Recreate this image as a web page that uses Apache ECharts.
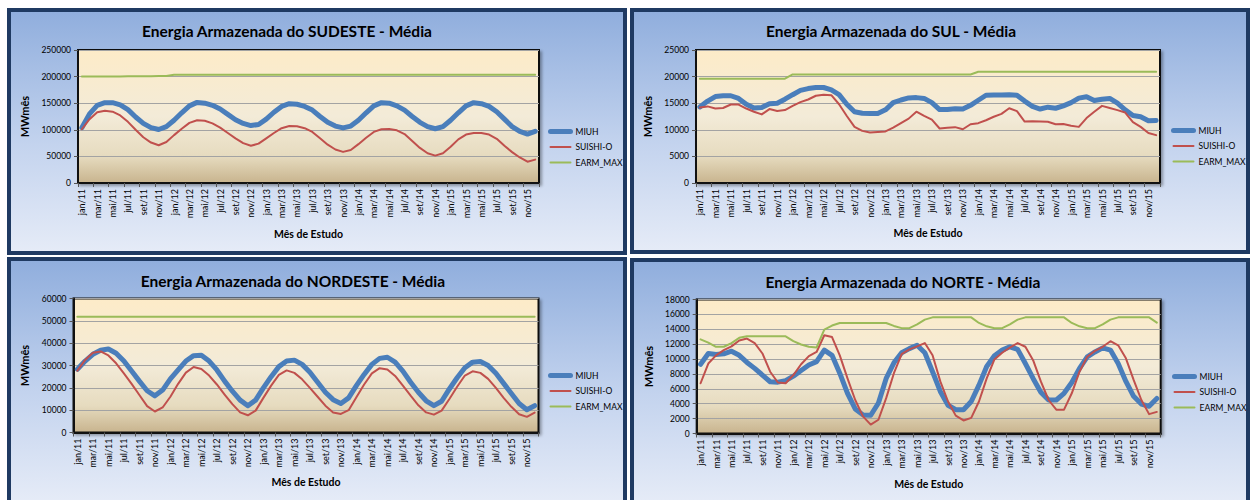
<!DOCTYPE html>
<html><head><meta charset="utf-8">
<script src="https://cdn.jsdelivr.net/npm/echarts@6/dist/echarts.min.js"></script>
<style>
html,body{margin:0;padding:0;background:#fff;width:1256px;height:500px;overflow:hidden;position:relative;}
.panel{position:absolute;box-sizing:border-box;border:4px solid #1f3a62;background:linear-gradient(to bottom,#90aedd 0%,#c3d3ee 55%,#e5ebf7 100%);}
.panel > div{width:100%;height:100%;}
</style></head><body>
<div class="panel" style="left:7px;top:8px;width:620px;height:247px"><div id="c1"></div></div>
<div class="panel" style="left:630px;top:8px;width:620px;height:246px"><div id="c2"></div></div>
<div class="panel" style="left:7px;top:257px;width:620px;height:247px"><div id="c3"></div></div>
<div class="panel" style="left:630px;top:258px;width:620px;height:247px"><div id="c4"></div></div>
<script>
const MONTHS = ['jan','fev','mar','abr','mai','jun','jul','ago','set','out','nov','dez'];
const YEARS = ['11','12','13','14','15'];
const CATEGORIES = [];
YEARS.forEach(y => MONTHS.forEach(m => CATEGORIES.push(m + '/' + y)));
const LEGEND = ['MIUH','SUISHI-O','EARM_MAX'];

// SUDESTE
const SE_MIUH = [104000,130000,146000,151000,151000,147000,138000,124000,112000,104000,100500,106000,
 118000,132000,145000,151500,150000,146000,139000,129000,119000,112000,108000,110000,
 120000,133000,144000,149000,148000,144000,137000,125000,114000,107000,103500,107000,
 118000,132000,145000,151000,150000,145000,137000,125000,114000,106000,102000,106000,
 118000,132000,145000,151000,149000,144000,134000,120000,106000,97000,92000,97000];
const SE_SUISHI = [101000,120000,133000,136000,134000,127000,115000,100000,86000,76000,71000,77000,
 90000,102000,113000,118000,117000,112000,104000,94000,84000,75000,70000,74000,
 84000,94000,103000,107000,106500,103000,96000,84000,72000,63000,58500,62000,
 73000,85000,96000,101000,101500,99000,92000,79000,66000,56000,51500,56000,
 68000,82000,91000,94000,94000,91000,83000,70000,58000,48000,40000,44000];
const SE_EARM = [200000,200000,200000,200000,200000,200300,200500,200600,200700,200800,200900,201000,
 203400,203400,203400,203400,203400,203400,203400,203400,203400,203400,203400,203400,
 203400,203400,203400,203400,203400,203400,203400,203400,203400,203400,203400,203400,
 203400,203400,203400,203400,203400,203400,203400,203400,203400,203400,203400,203400,
 203400,203400,203400,203400,203400,203400,203400,203400,203400,203400,203400,203400];

// SUL
const S_MIUH = [14300,15400,16250,16400,16400,15900,14800,14100,14200,14900,15000,15750,
 16600,17400,17750,17950,17950,17500,16600,14800,13400,13100,13050,13050,
 13750,15100,15600,16000,16050,15900,15100,13800,13800,13950,13900,14600,
 15550,16500,16550,16550,16600,16500,15400,14400,13900,14250,14050,14500,
 15100,15950,16200,15500,15750,15900,15000,13750,12700,12450,11700,11750];
const S_SUISHI = [14200,14400,14000,14100,14750,14750,14000,13400,12900,13900,13550,13700,
 14500,15200,15700,16400,16600,16500,14800,12600,10550,9800,9500,9600,
 9700,10400,11250,12100,13400,12600,11900,10250,10400,10500,10100,11050,
 11250,11800,12450,13000,14050,13500,11550,11600,11550,11500,11050,11100,
 10750,10550,12200,13400,14500,14100,13700,13250,11450,10550,9400,9000];
const S_EARM = [19600,19600,19600,19600,19600,19600,19600,19600,19600,19600,19600,19600,
 20400,20400,20400,20400,20400,20400,20400,20400,20400,20400,20400,20400,
 20400,20400,20400,20400,20400,20400,20400,20400,20400,20400,20400,20400,
 20900,20900,20900,20900,20900,20900,20900,20900,20900,20900,20900,20900,
 20900,20900,20900,20900,20900,20900,20900,20900,20900,20900,20900,20900];

// NORDESTE
const NE_MIUH = [28300,32000,35000,36800,37400,35500,32000,27500,23000,18700,16400,19000,
 24000,28000,32000,34400,34600,32000,28000,23000,18500,14500,12000,14500,
 20000,25000,29500,32000,32400,30500,27000,22500,18000,14700,13000,15500,
 21000,26000,30500,33200,33700,31500,27500,22500,18000,14200,12000,14000,
 19500,24500,29000,31500,31800,30000,26500,22000,17500,13000,10200,12000];
const NE_SUISHI = [27700,32500,35700,36300,34500,31000,26500,21800,16800,11800,9400,11200,
 16000,21800,26800,29300,28400,25500,21500,17000,12700,9000,7700,9800,
 15500,21000,25800,27800,26700,23800,20000,16000,12000,9000,8300,10000,
 15800,21500,26500,28800,28200,25300,21000,16500,12200,9000,8000,9800,
 15000,20500,25500,27400,26700,24000,20000,15500,11500,8200,7000,8900];
const NE_EARM = [51800,51800,51800,51800,51800,51800,51800,51800,51800,51800,51800,51800,
 51800,51800,51800,51800,51800,51800,51800,51800,51800,51800,51800,51800,
 51800,51800,51800,51800,51800,51800,51800,51800,51800,51800,51800,51800,
 51800,51800,51800,51800,51800,51800,51800,51800,51800,51800,51800,51800,
 51800,51800,51800,51800,51800,51800,51800,51800,51800,51800,51800,51800];

// NORTE
const N_MIUH = [9300,10750,10600,10700,11050,10500,9550,8750,7850,6950,6900,7100,
 7700,8450,9200,9650,11200,10500,8100,5400,3300,2500,2450,4100,
 7400,9500,10850,11400,11850,10850,8300,5650,3800,3200,3200,4300,
 6500,9000,10450,11200,11650,11300,9400,7400,5550,4500,4500,5400,
 6850,8750,10300,10950,11500,11200,9400,7000,5000,3950,3650,4700];
const N_SUISHI = [6750,9400,10500,11200,11700,12500,12750,12150,10750,8300,6850,6750,
 7850,9300,10400,10950,13200,12950,10500,7400,4500,2300,1200,1850,
 4750,8100,10650,11300,11700,12150,10500,7000,4300,2400,1750,2100,
 4300,7400,9950,10850,11550,12150,11650,9850,7000,4500,3200,3200,
 5400,8300,10300,11100,11650,12400,11850,10100,7200,4500,2600,2900];
const N_EARM = [12650,12200,11650,11650,12150,12850,13050,13050,13050,13050,13050,13050,
 12400,11950,11650,11550,13950,14500,14850,14850,14850,14850,14850,14850,
 14850,14450,14150,14150,14650,15300,15600,15600,15600,15600,15600,15600,
 14850,14400,14150,14150,14650,15300,15600,15600,15600,15600,15600,15600,
 14850,14400,14150,14150,14650,15300,15600,15600,15600,15600,15600,14900];

const FONT = 'Lato, "Open Sans", sans-serif';
const COLORS = ['#4a7ebb','#c0504d','#9bbb59'];
const WIDTHS = [5, 2, 2];

function build(id, cfg){
  const chart = echarts.init(document.getElementById(id), null, {renderer:'svg'});
  const seriesData = [cfg.miuh, cfg.suishi, cfg.earm];
  chart.setOption({
    animation:false,
    backgroundColor:'transparent',
    textStyle:{fontFamily:FONT},
    graphic:[{type:'text', x:cfg.titleX, y:cfg.titleY, style:{text:cfg.title, fill:'#000',
      fontFamily:FONT, fontWeight:'bold', fontSize:15.5, align:'center', verticalAlign:'middle'}}],
    grid:{left:cfg.grid[0], top:cfg.grid[1], width:cfg.grid[2], height:cfg.grid[3], show:true,
      backgroundColor:{type:'linear',x:0,y:0,x2:0,y2:1,colorStops:[
        {offset:0,color:'#fdebc8'},{offset:0.5,color:'#f3ebd8'},{offset:0.8,color:'#e6dbbf'},{offset:1,color:'#c8b48e'}]},
      borderColor:'#111', borderWidth:2,
      shadowColor:'rgba(0,0,0,0.35)', shadowBlur:3, shadowOffsetX:2, shadowOffsetY:2},
    legend:{orient:'vertical', left:cfg.legend[0], top:cfg.legend[1], padding:0, itemWidth:20, itemHeight:10, itemGap:6.5,
      textStyle:{fontSize:8.5, color:'#000', fontFamily:FONT},
      data:LEGEND.map((n,i)=>({name:n, itemStyle:{opacity:0}, lineStyle:{width:WIDTHS[i], color:COLORS[i]}}))},
    xAxis:{type:'category', data:CATEGORIES, boundaryGap:true,
      axisLine:{lineStyle:{color:'#111', width:2}},
      axisTick:{show:true, length:4, lineStyle:{color:'#555'}},
      axisLabel:{interval:1, rotate:90, fontSize:9, color:'#000', margin:6, fontFamily:FONT},
      name:'Mês de Estudo', nameLocation:'middle', nameGap:cfg.xGap,
      nameTextStyle:{fontWeight:'bold', fontSize:10.5, color:'#000', fontFamily:FONT}},
    yAxis:{type:'value', min:0, max:cfg.max, interval:cfg.interval,
      axisLine:{show:true, lineStyle:{color:'#111', width:2}},
      axisTick:{show:true, length:4, lineStyle:{color:'#555'}},
      axisLabel:{fontSize:8.5, color:'#000', margin:7, fontFamily:FONT, formatter:v=>String(v)},
      splitLine:{lineStyle:{color:'#a3a3a3'}},
      name:'MWmês', nameLocation:'middle', nameGap:cfg.yGap,
      nameTextStyle:{fontWeight:'bold', fontSize:11, color:'#000', fontFamily:FONT}},
    series:LEGEND.map((n,i)=>({name:n, type:'line', data:seriesData[i], symbol:'none',
      lineStyle:{color:COLORS[i], width:WIDTHS[i], cap:'round', join:'round'}, itemStyle:{color:COLORS[i]}}))
  });
}

build('c1', {title:'Energia Armazenada do SUDESTE - Média', titleX:276, titleY:19,
  grid:[67,38,461,133], legend:[537,115], max:250000, interval:50000, yGap:48, xGap:45,
  miuh:SE_MIUH, suishi:SE_SUISHI, earm:SE_EARM});
build('c2', {title:'Energia Armazenada do SUL - Média', titleX:257, titleY:19,
  grid:[62,38,464,133], legend:[537,114], max:25000, interval:5000, yGap:43, xGap:44,
  miuh:S_MIUH, suishi:S_SUISHI, earm:S_EARM});
build('c3', {title:'Energia Armazenada do NORDESTE - Média', titleX:282, titleY:20,
  grid:[62.5,37.5,465,134], legend:[537,110], max:60000, interval:10000, yGap:43.5, xGap:44,
  miuh:NE_MIUH, suishi:NE_SUISHI, earm:NE_EARM});
build('c4', {title:'Energia Armazenada do NORTE - Média', titleX:269, titleY:20,
  grid:[62.7,37.5,464,134], legend:[538,110], max:18000, interval:2000, yGap:43, xGap:44.5,
  miuh:N_MIUH, suishi:N_SUISHI, earm:N_EARM});
</script>
</body></html>
